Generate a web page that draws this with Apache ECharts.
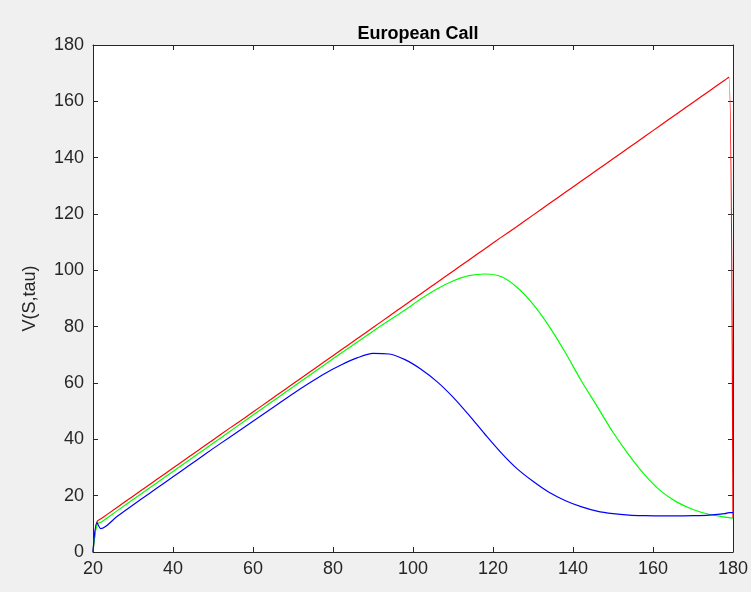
<!DOCTYPE html>
<html>
<head>
<meta charset="utf-8">
<script src="https://cdn.jsdelivr.net/npm/echarts@6/dist/echarts.min.js"></script>
<style>
  html, body { margin: 0; padding: 0; background: #f0f0f0; }
  #chart { width: 751px; height: 592px; }
</style>
</head>
<body>
<div id="chart"></div>
<script>
// Stock price grid S
const sGrid = [20, 21, 22, 26, 30, 34, 38, 42, 46, 50, 54, 58, 62, 66, 70, 74, 78, 82, 86, 90,
  94, 98, 102, 106, 110, 114, 118, 122, 126, 130, 134, 138, 142, 146, 150, 154, 158, 162,
  166, 170, 174, 178, 179, 180];

// Option value V(S,tau) for three time levels
const vRed = [0, 10.8, 11.8, 15.8, 19.8, 23.8, 27.8, 31.8, 35.8, 39.8, 43.8, 47.7, 51.7, 55.7,
  59.7, 63.7, 67.7, 71.7, 75.7, 79.7, 83.7, 87.7, 91.7, 95.7, 99.7, 103.7, 107.7, 111.7,
  115.6, 119.6, 123.6, 127.6, 131.6, 135.6, 139.6, 143.6, 147.6, 151.6, 155.6, 159.6,
  163.6, 167.6, 168.6, 12.0];

const vGreen = [0, 9.9, 10.6, 14.6, 18.6, 22.6, 26.6, 30.6, 34.6, 38.6, 42.6, 46.6, 50.6, 54.6,
  58.6, 62.6, 66.6, 70.6, 74.5, 78.4, 82.2, 85.9, 89.9, 93.4, 96.2, 98.1, 98.7, 97.8,
  94.0, 88.0, 80.2, 71.0, 61.0, 51.8, 42.5, 34.4, 27.3, 21.6, 17.7, 15.1, 13.4, 12.4, 12.2, 12.0];

const vBlue = [0, 10.4, 8.3, 12.6, 16.7, 20.7, 24.7, 28.7, 32.7, 36.7, 40.6, 44.5, 48.4, 52.3,
  56.2, 59.9, 63.4, 66.4, 68.9, 70.5, 70.3, 68.3, 64.9, 60.5, 55.0, 48.6, 41.8, 35.3,
  29.6, 25.1, 21.2, 18.3, 16.1, 14.5, 13.6, 13.1, 12.9, 12.8, 12.8, 12.9, 13.1, 13.6, 14.0, 14.0];

const xTicks = [20, 40, 60, 80, 100, 120, 140, 160, 180];
const yTicks = [0, 20, 40, 60, 80, 100, 120, 140, 160, 180];

const titleText = 'European Call';
const yLabel = 'V(S,tau)';

const axisColor = '#262626';
const fontFamily = '"Liberation Sans", Arial, Helvetica, sans-serif';

function pairs(xs, ys) {
  return xs.map((x, i) => [x, ys[i]]);
}

const chart = echarts.init(document.getElementById('chart'), null, { renderer: 'canvas' });

const baseX = {
  type: 'value',
  min: xTicks[0],
  max: xTicks[xTicks.length - 1],
  interval: 20,
  axisLine: { show: true, onZero: false, lineStyle: { color: axisColor, width: 1 } },
  axisTick: { show: true, inside: true, length: 5, lineStyle: { color: axisColor } },
  splitLine: { show: false }
};
const baseY = {
  type: 'value',
  min: yTicks[0],
  max: yTicks[yTicks.length - 1],
  interval: 20,
  axisLine: { show: true, onZero: false, lineStyle: { color: axisColor, width: 1 } },
  axisTick: { show: true, inside: true, length: 5, lineStyle: { color: axisColor } },
  splitLine: { show: false }
};

function lineSeries(ys, color) {
  return {
    type: 'line',
    data: pairs(sGrid, ys),
    showSymbol: false,
    symbol: 'none',
    smooth: 0.3,
    clip: false,
    lineStyle: { color: color, width: 1.2 },
    emphasis: { disabled: true },
    animation: false
  };
}

chart.setOption({
  backgroundColor: '#f0f0f0',
  animation: false,
  title: {
    text: titleText,
    left: 413,
    textAlign: 'center',
    top: 20,
    textStyle: { fontFamily: fontFamily, fontSize: 18, fontWeight: 'bold', color: '#000' }
  },
  grid: {
    left: 93, right: 17, top: 45, bottom: 40,
    show: true, backgroundColor: '#ffffff', borderColor: axisColor, borderWidth: 0
  },
  xAxis: [
    Object.assign({}, baseX, {
      position: 'bottom',
      axisLabel: { show: true, margin: 8, fontFamily: fontFamily, fontSize: 18, color: axisColor }
    }),
    Object.assign({}, baseX, { position: 'top', axisLabel: { show: false } })
  ],
  yAxis: [
    Object.assign({}, baseY, {
      position: 'left',
      name: yLabel,
      nameLocation: 'middle',
      nameGap: 54,
      nameTextStyle: { fontFamily: fontFamily, fontSize: 18, color: axisColor },
      axisLabel: { show: true, margin: 9, fontFamily: fontFamily, fontSize: 18, color: axisColor }
    }),
    Object.assign({}, baseY, { position: 'right', axisLabel: { show: false } })
  ],
  series: [
    lineSeries(vRed, '#ff0000'),
    lineSeries(vGreen, '#00ff00'),
    lineSeries(vBlue, '#0000ff')
  ]
});
</script>
</body>
</html>
